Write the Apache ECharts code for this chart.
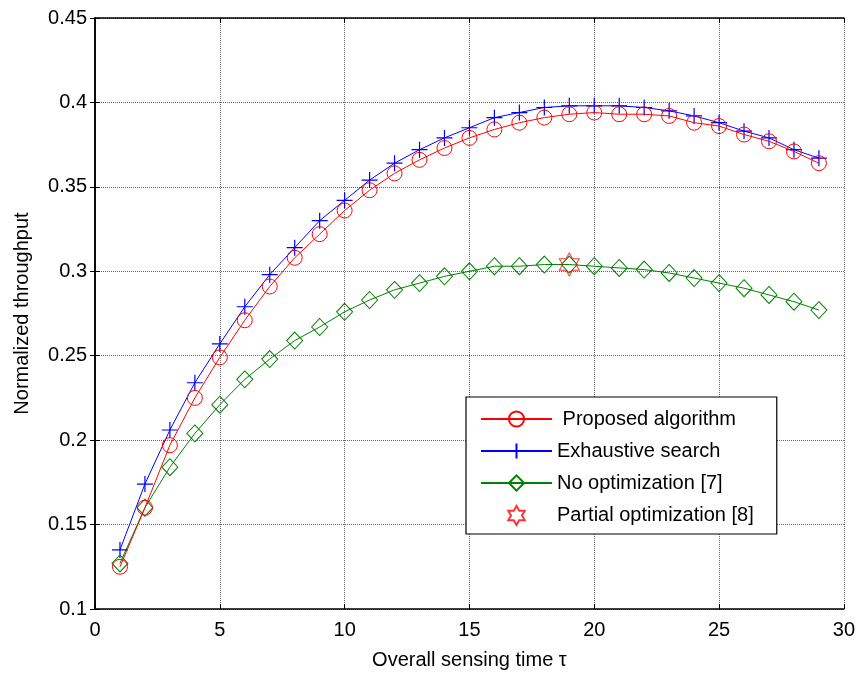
<!DOCTYPE html>
<html>
<head>
<meta charset="utf-8">
<title>throughput</title>
<script src="https://cdn.jsdelivr.net/npm/echarts@6/dist/echarts.min.js"></script>
<style>
  html, body { margin: 0; padding: 0; background: #fff; }
  #main { width: 858px; height: 675px; }
</style>
</head>
<body>
<div id="main"></div>
<script>
// sensing time tau
var tau = [1,2,3,4,5,6,7,8,9,10,11,12,13,14,15,16,17,18,19,20,21,22,23,24,25,26,27,28,29];

var proposed = [0.125,0.160,0.197,0.225,0.249,0.271,0.291,0.308,0.322,0.336,0.348,0.358,0.366,0.373,0.379,
                0.384,0.388,0.391,0.393,0.394,0.393,0.393,0.392,0.388,0.386,0.381,0.377,0.371,0.364];
var exhaustive = [0.135,0.174,0.206,0.234,0.257,0.279,0.298,0.314,0.330,0.342,0.354,0.364,0.372,0.379,0.385,
                  0.391,0.394,0.397,0.398,0.398,0.398,0.397,0.395,0.392,0.388,0.383,0.379,0.372,0.367];
var noOpt = [0.127,0.160,0.184,0.204,0.221,0.236,0.248,0.259,0.267,0.276,0.283,0.289,0.293,0.297,0.300,
             0.303,0.303,0.304,0.304,0.303,0.302,0.301,0.299,0.296,0.293,0.290,0.286,0.282,0.277];
var partial = [[19, 0.304]];

var xTicks = [0, 5, 10, 15, 20, 25, 30];
var yTicks = ['0.1','0.15','0.2','0.25','0.3','0.35','0.4','0.45'];

var names = [' Proposed algorithm', 'Exhaustive search', 'No optimization [7]', 'Partial optimization [8]'];

function pairs(ys) {
  return tau.map(function (t, i) { return [t, ys[i]]; });
}

var FONT = 'Liberation Sans, Arial, sans-serif';
var plusPath = 'path://M0,-10L0,10M-10,0L10,0';
var hexPath = 'path://M0,-10L2.887,-5L8.66,-5L5.774,0L8.66,5L2.887,5L0,10L-2.887,5L-8.66,5L-5.774,0L-8.66,-5L-2.887,-5Z';

var myChart = echarts.init(document.getElementById('main'));

var boxAxis = {
  axisLine: { show: true, lineStyle: { color: '#000', width: 1.5 } },
  axisTick: { show: true, inside: true, length: 5, lineStyle: { color: '#000' } },
  axisLabel: { show: false },
  splitLine: { show: false }
};

option = {
  animation: false,
  grid: { left: 95, right: 13, top: 18, bottom: 66 },
  xAxis: [
    {
      type: 'value', min: 0, max: 30, interval: 5,
      name: 'Overall sensing time \u03c4', nameLocation: 'middle', nameGap: 41,
      nameTextStyle: { color: '#000', fontSize: 20, fontFamily: FONT },
      axisLine: { show: true, lineStyle: { color: '#000', width: 1.5 } },
      axisTick: { show: true, inside: true, length: 5, lineStyle: { color: '#000' } },
      axisLabel: { color: '#000', fontSize: 20, fontFamily: FONT, margin: 11,
        formatter: function (v) { return xTicks.indexOf(v) >= 0 ? String(v) : ''; } },
      splitLine: { show: true, lineStyle: { color: '#666', type: 'dotted', width: 1 } }
    },
    Object.assign({ type: 'value', min: 0, max: 30, interval: 5, position: 'top' }, boxAxis)
  ],
  yAxis: [
    {
      type: 'value', min: 0.1, max: 0.45, interval: 0.05,
      name: 'Normalized throughput', nameLocation: 'middle', nameGap: 63,
      nameTextStyle: { color: '#000', fontSize: 20, fontFamily: FONT },
      axisLine: { show: true, lineStyle: { color: '#000', width: 1.5 } },
      axisTick: { show: true, inside: true, length: 5, lineStyle: { color: '#000' } },
      axisLabel: { color: '#000', fontSize: 20, fontFamily: FONT, margin: 8,
        formatter: function (v) {
          var i = Math.round((v - 0.1) / 0.05);
          return yTicks[i] || '';
        } },
      splitLine: { show: true, lineStyle: { color: '#666', type: 'dotted', width: 1 } }
    },
    Object.assign({ type: 'value', min: 0.1, max: 0.45, interval: 0.05, position: 'right' }, boxAxis)
  ],
  legend: {
    orient: 'vertical',
    left: 466, top: 397,
    padding: [12, 23, 8, 14],
    itemGap: 12,
    itemWidth: 71, itemHeight: 19,
    backgroundColor: '#fff',
    borderColor: '#000', borderWidth: 1.2,
    textStyle: { color: '#000', fontSize: 20, fontFamily: FONT },
    data: names
  },
  series: [
    {
      name: names[0], type: 'line', data: pairs(proposed),
      symbol: 'circle', symbolSize: 15, showAllSymbol: true,
      lineStyle: { color: '#ff0000', width: 1 },
      itemStyle: { color: 'rgba(0,0,0,0)', borderColor: '#ff0000', borderWidth: 1 },
      emphasis: { disabled: true }, z: 3
    },
    {
      name: names[1], type: 'line', data: pairs(exhaustive),
      symbol: plusPath, symbolSize: 16, showAllSymbol: true,
      lineStyle: { color: '#0000ff', width: 1 },
      itemStyle: { color: 'rgba(0,0,0,0)', borderColor: '#0000ff', borderWidth: 1.2 },
      emphasis: { disabled: true }, z: 2
    },
    {
      name: names[2], type: 'line', data: pairs(noOpt),
      symbol: 'diamond', symbolSize: [16, 17], showAllSymbol: true,
      lineStyle: { color: '#008000', width: 1 },
      itemStyle: { color: 'rgba(0,0,0,0)', borderColor: '#008000', borderWidth: 1 },
      emphasis: { disabled: true }, z: 2
    },
    {
      name: names[3], type: 'scatter', data: partial,
      symbol: hexPath, symbolSize: [20, 23],
      itemStyle: { color: 'rgba(0,0,0,0)', borderColor: '#ff0000', borderWidth: 1 },
      emphasis: { disabled: true }, z: 4
    }
  ]
};
myChart.setOption(option);
</script>
</body>
</html>
